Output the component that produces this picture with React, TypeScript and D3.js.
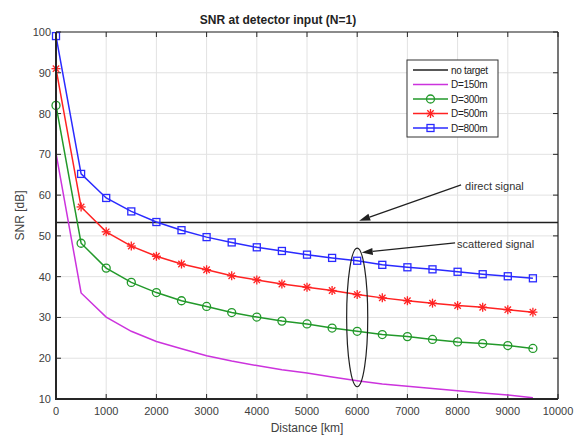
import React from "react";
import * as d3 from "d3";

const distances = [0, 500, 1000, 1500, 2000, 2500, 3000, 3500, 4000, 4500, 5000, 5500, 6000, 6500, 7000, 7500, 8000, 8500, 9000, 9500];
const noTarget = [53.3, 53.3];
const noTargetX = [0, 10000];
const d150 = [70.3, 36, 30.1, 26.6, 24.1, 22.3, 20.6, 19.3, 18.2, 17.2, 16.4, 15.4, 14.5, 13.7, 13.1, 12.6, 12.0, 11.5, 11.0, 10.3];
const d300 = [82, 48.2, 42.1, 38.6, 36.1, 34.1, 32.7, 31.2, 30.1, 29.1, 28.4, 27.4, 26.6, 25.8, 25.3, 24.6, 24.0, 23.6, 23.1, 22.4];
const d500 = [91, 57.1, 51.0, 47.5, 45.0, 43.1, 41.7, 40.2, 39.2, 38.2, 37.4, 36.6, 35.6, 34.8, 34.1, 33.5, 32.9, 32.5, 31.9, 31.3];
const d800 = [99, 65.2, 59.3, 56.0, 53.4, 51.4, 49.7, 48.4, 47.2, 46.3, 45.4, 44.6, 43.9, 42.9, 42.3, 41.8, 41.2, 40.6, 40.1, 39.6];
const xTicks = [0, 1000, 2000, 3000, 4000, 5000, 6000, 7000, 8000, 9000, 10000];
const yTicks = [10, 20, 30, 40, 50, 60, 70, 80, 90, 100];
const legendLabels = ["no target", "D=150m", "D=300m", "D=500m", "D=800m"];
const titleText = "SNR at detector input (N=1)";
const xLabel = "Distance [km]";
const yLabel = "SNR [dB]";
const annotationLabels = ["direct signal", "scattered signal"];

const W = 577, H = 439;
const L = 56, R = 558, T = 32, B = 399;
const font = "'Liberation Sans', Arial, sans-serif";
const axisCol = "#262626";
const textCol = "#404040";

const colors = { black: "#202020", mag: "#cc33dd", green: "#22992a", red: "#ff2222", blue: "#2a2aff" };

type MarkerKind = "none" | "circle" | "star" | "square";

function Marker({ kind, x, y, color }: { kind: MarkerKind; x: number; y: number; color: string }) {
  if (kind === "circle") return <circle cx={x} cy={y} r={4} fill="none" stroke={color} strokeWidth={1.3} />;
  if (kind === "square") return <rect x={x - 3.5} y={y - 3.5} width={7} height={7} fill="none" stroke={color} strokeWidth={1.3} />;
  if (kind === "star") {
    const s = 4.5, d = 3.2;
    return (
      <g stroke={color} strokeWidth={1.3}>
        <line x1={x - s} y1={y} x2={x + s} y2={y} />
        <line x1={x} y1={y - s} x2={x} y2={y + s} />
        <line x1={x - d} y1={y - d} x2={x + d} y2={y + d} />
        <line x1={x - d} y1={y + d} x2={x + d} y2={y - d} />
      </g>
    );
  }
  return null;
}

export default function App() {
  const x = d3.scaleLinear().domain([0, 10000]).range([L, R]);
  const y = d3.scaleLinear().domain([10, 100]).range([B, T]);
  const line = d3.line<[number, number]>().x((d) => x(d[0])).y((d) => y(d[1]));

  const series: { vals: number[]; color: string; marker: MarkerKind }[] = [
    { vals: d150, color: colors.mag, marker: "none" },
    { vals: d300, color: colors.green, marker: "circle" },
    { vals: d500, color: colors.red, marker: "star" },
    { vals: d800, color: colors.blue, marker: "square" },
  ];

  const legendItems: { color: string; marker: MarkerKind }[] = [
    { color: colors.black, marker: "none" },
    { color: colors.mag, marker: "none" },
    { color: colors.green, marker: "circle" },
    { color: colors.red, marker: "star" },
    { color: colors.blue, marker: "square" },
  ];

  // annotations in data units
  const ell = { cx: 6000, cy: 30, rx: 210, ry: 17 };
  const a1 = { fx: 8070, fy: 62.5, tx: 6040, ty: 53.7 };
  const a2 = { fx: 7950, fy: 48.3, tx: 6090, ty: 45.9 };

  const arrow = (fx: number, fy: number, tx: number, ty: number) => {
    const x1 = x(fx), y1 = y(fy), x2 = x(tx), y2 = y(ty);
    const ang = Math.atan2(y2 - y1, x2 - x1);
    const len = 11, wid = 3.5;
    const bx = x2 - len * Math.cos(ang), by = y2 - len * Math.sin(ang);
    const px = -Math.sin(ang) * wid, py = Math.cos(ang) * wid;
    return (
      <g>
        <line x1={x1} y1={y1} x2={bx} y2={by} stroke="#202020" strokeWidth={1.2} />
        <path d={`M${x2},${y2}L${bx + px},${by + py}L${bx - px},${by - py}Z`} fill="#202020" />
      </g>
    );
  };

  return (
    <svg width={W} height={H} style={{ position: "absolute", left: 0, top: 0, background: "#fff" }} fontFamily={font}>
      <rect x={0} y={0} width={W} height={H} fill="#fff" />
      {/* grid */}
      {xTicks.map((t) => (
        <line key={"gx" + t} x1={x(t)} x2={x(t)} y1={T} y2={B} stroke="#e2e2e2" strokeWidth={1} />
      ))}
      {yTicks.map((t) => (
        <line key={"gy" + t} x1={L} x2={R} y1={y(t)} y2={y(t)} stroke="#e2e2e2" strokeWidth={1} />
      ))}
      {/* ticks */}
      {xTicks.map((t) => (
        <g key={"tx" + t} stroke={axisCol} strokeWidth={1}>
          <line x1={x(t)} x2={x(t)} y1={B} y2={B - 5} />
          <line x1={x(t)} x2={x(t)} y1={T} y2={T + 5} />
        </g>
      ))}
      {yTicks.map((t) => (
        <g key={"ty" + t} stroke={axisCol} strokeWidth={1}>
          <line x1={L} x2={L + 5} y1={y(t)} y2={y(t)} />
          <line x1={R} x2={R - 5} y1={y(t)} y2={y(t)} />
        </g>
      ))}
      {/* no target line */}
      <path d={line(noTargetX.map((v, i) => [v, noTarget[i]]) as any) || ""} stroke={colors.black} strokeWidth={1.5} fill="none" />
      {/* series */}
      {series.map((s, i) => (
        <g key={"s" + i}>
          <path d={line(distances.map((d, j) => [d, s.vals[j]])) || ""} stroke={s.color} strokeWidth={1.5} fill="none" />
          {s.marker !== "none" && distances.map((d, j) => <Marker key={j} kind={s.marker} x={x(d)} y={y(s.vals[j])} color={s.color} />)}
        </g>
      ))}
      {/* axes box */}
      <line x1={L} x2={R} y1={T} y2={T} stroke={axisCol} strokeWidth={1.2} />
      <line x1={R} x2={R} y1={T} y2={B} stroke={axisCol} strokeWidth={1.2} />
      <line x1={L} x2={L} y1={T} y2={B + 1} stroke={axisCol} strokeWidth={2} />
      <line x1={L - 1} x2={R} y1={B} y2={B} stroke={axisCol} strokeWidth={2} />
      {/* tick labels */}
      {xTicks.map((t) => (
        <text key={"lx" + t} x={x(t)} y={B + 16} textAnchor="middle" fontSize={11} fill={textCol}>{t}</text>
      ))}
      {yTicks.map((t) => (
        <text key={"ly" + t} x={L - 5} y={y(t) + 4} textAnchor="end" fontSize={11} fill={textCol}>{t}</text>
      ))}
      {/* axis labels and title */}
      <text x={(L + R) / 2} y={432} textAnchor="middle" fontSize={12} fill={textCol}>{xLabel}</text>
      <text transform={`translate(24,${(T + B) / 2}) rotate(-90)`} textAnchor="middle" fontSize={12} fill={textCol}>{yLabel}</text>
      <text x={278} y={24} textAnchor="middle" fontSize={12} fontWeight="bold" fill="#222">{titleText}</text>
      {/* annotations */}
      <ellipse cx={x(ell.cx)} cy={y(ell.cy)} rx={x(ell.rx) - x(0)} ry={y(0) - y(ell.ry)} fill="none" stroke="#202020" strokeWidth={1.2} />
      {arrow(a1.fx, a1.fy, a1.tx, a1.ty)}
      {arrow(a2.fx, a2.fy, a2.tx, a2.ty)}
      <text x={x(a1.fx) + 4} y={y(a1.fy) + 5} fontSize={11} fill="#333">{annotationLabels[0]}</text>
      <text x={x(a2.fx) + 2} y={y(a2.fy) + 5} fontSize={11} fill="#333">{annotationLabels[1]}</text>
      {/* legend */}
      <g>
        <rect x={407} y={60} width={91} height={77} fill="#fff" stroke="#333" strokeWidth={1} />
        {legendLabels.map((lab, i) => {
          const ly = 70 + i * 14.5;
          const it = legendItems[i];
          return (
            <g key={lab}>
              <line x1={413} x2={448} y1={ly} y2={ly} stroke={it.color} strokeWidth={1.5} />
              <Marker kind={it.marker} x={430.5} y={ly} color={it.color} />
              <text x={451} y={ly + 3.5} fontSize={10} fill="#222" letterSpacing={-0.3}>{lab}</text>
            </g>
          );
        })}
      </g>
    </svg>
  );
}
